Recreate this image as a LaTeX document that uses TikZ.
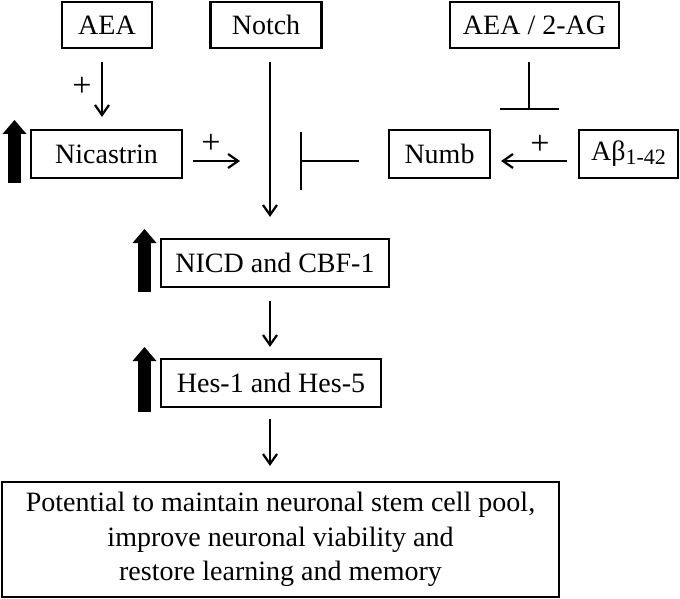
\documentclass[tikz,border=0pt]{standalone}
\usepackage{fontspec}
\setmainfont{Liberation Serif}
\usetikzlibrary{positioning}
\usetikzlibrary{arrows.meta}
\tikzset{
    box/.style={shape=rectangle,draw=black,line width=2.2pt,inner sep=0pt,font=\fontsize{28}{34.5}\selectfont},
    conn/.style={line width=2.2pt,-{Straight Barb[length=10pt,width=14pt]}},
    blockade/.style={line width=2.2pt,-{Bar[width=#1]}},
    upreg/.style={line width=13pt,-{Triangle[length=14pt,width=24pt,line width=0pt]}},
    sign/.style={inner sep=0pt,font=\fontsize{34}{34}\selectfont}
}

\begin{document}
\begin{tikzpicture}[x=1pt,y=-1pt]
    \useasboundingbox (0,0) rectangle (680,599);
    \node[box,minimum width=90pt,minimum height=46pt] (aea) at (107,25) {AEA};
    \node[box,minimum width=111pt,minimum height=46pt] (notch) at (266,25) {Notch};
    \node[box,minimum width=169pt,minimum height=46pt] (aeaag) at (534.5,25) {AEA / 2-AG};
    \node[box,minimum width=151pt,minimum height=48pt] (nic) at (106.5,154) {Nicastrin};
    \node[box,minimum width=101pt,minimum height=48pt] (numb) at (439.5,154) {Numb};
    \node[box,minimum width=99pt,minimum height=48pt] (abeta) at (628.5,154)
        {Aβ\raisebox{-4pt}{\fontsize{22}{22}\selectfont 1-42}};
    \node[box,minimum width=228pt,minimum height=48pt] (nicd) at (275,263) {NICD and CBF-1};
    \node[box,minimum width=220pt,minimum height=48pt] (hes) at (271,383) {Hes-1 and Hes-5};
    \node[box,minimum width=557pt,minimum height=115pt,align=center] (outcome) at (280.5,539.5)
        {Potential to maintain neuronal stem cell pool,\\improve neuronal viability and\\restore learning and memory};

    \node[sign] (plusAEA) at (82,87) {+};
    \node[sign] (plusNic) at (211,144) {+};
    \node[sign] (plusAbeta) at (540,145) {+};

    \coordinate (nicEnd) at (240,161);
    \coordinate (cut) at (300,161);
    \coordinate (agEnd) at (529,110);

    \draw[conn,shorten <=13pt,shorten >=12pt] ([xshift=-5pt]aea.south) -- ([xshift=-4.5pt]nic.north);
    \draw[conn,shorten <=10pt] ([yshift=-7pt]nic.east) -- (nicEnd);
    \draw[conn,shorten <=13pt,shorten >=21pt] ([xshift=4pt]notch.south) -- ([xshift=-5pt]nicd.north);
    \draw[blockade=58pt,shorten <=29pt] ([yshift=-7pt]numb.west) -- (cut);
    \draw[blockade=59pt,shorten <=13pt] ([xshift=-5.5pt]aeaag.south) -- (agEnd);
    \draw[conn,shorten <=11pt,shorten >=10pt] ([yshift=-7pt]abeta.west) -- ([yshift=-7pt]numb.east);
    \draw[conn,shorten <=13pt,shorten >=11pt] ([xshift=-5pt]nicd.south) -- ([xshift=-1pt]hes.north);
    \draw[conn,shorten <=11pt,shorten >=15pt] ([xshift=-1pt]hes.south) -- ([xshift=-10.5pt]outcome.north);

    % up-regulation marks
    \coordinate (upNicA) at (14.5,183);
    \coordinate (upNicB) at (14.5,120);
    \coordinate (upNicdA) at (144.5,292);
    \coordinate (upNicdB) at (144.5,229);
    \coordinate (upHesA) at (144.5,412);
    \coordinate (upHesB) at (144.5,347);
    \draw[upreg] (upNicA) -- (upNicB);
    \draw[upreg] (upNicdA) -- (upNicdB);
    \draw[upreg] (upHesA) -- (upHesB);
\end{tikzpicture}
\end{document}
